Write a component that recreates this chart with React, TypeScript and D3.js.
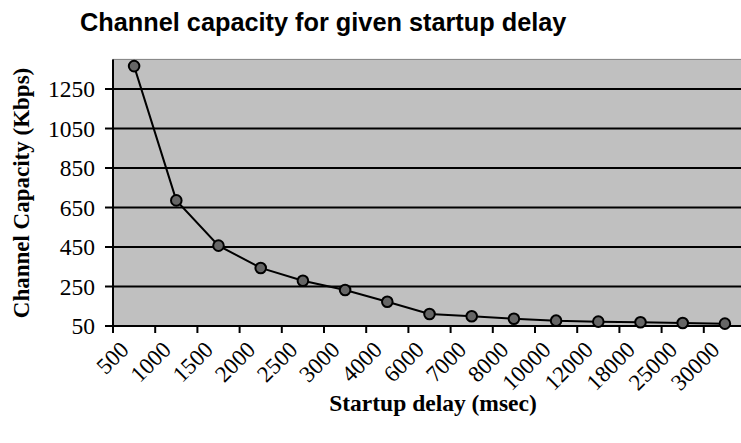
import React from "react";
import * as d3 from "d3";

const delays = ["500", "1000", "1500", "2000", "2500", "3000", "4000", "6000", "7000", "8000", "10000", "12000", "18000", "25000", "30000"];
const capacity = [1366, 686, 457, 344, 279, 232, 173, 111, 99, 87, 77, 72, 69, 65, 62];
const yTicks = [50, 250, 450, 650, 850, 1050, 1250];

const W = 741;
const H = 443;
const left = 113;
const right = 746;
const top = 59.4;
const bottom = 326;

const serif = "'Liberation Serif', 'Times New Roman', serif";
const sans = "'Liberation Sans', Arial, sans-serif";

export default function App() {
  const x = d3.scaleBand<string>().domain(delays).range([left, right]).padding(0);
  const y = d3.scaleLinear().domain([50, 1400]).range([bottom, top]);
  const cx = (d: string) => (x(d) as number) + x.bandwidth() / 2;
  const line = d3
    .line<number>()
    .x((_, i) => cx(delays[i]))
    .y((v) => y(v));

  return (
    <svg width={W} height={H} style={{ position: "absolute", left: 0, top: 0, background: "#fff" }}>
      <text x={80} y={31} style={{ fontFamily: sans, fontWeight: "bold", fontSize: 25.3 }} fill="#000">
        Channel capacity for given startup delay
      </text>
      <rect x={left} y={top} width={right - left} height={bottom - top} fill="#c0c0c0" stroke="#808080" strokeWidth={1} />
      {yTicks.filter((t) => t !== 50).map((t) => (
        <line key={"g" + t} x1={left} x2={right} y1={y(t)} y2={y(t)} stroke="#000" strokeWidth={2} />
      ))}
      {yTicks.map((t) => (
        <g key={"t" + t}>
          <line x1={left - 8} x2={left} y1={y(t)} y2={y(t)} stroke="#000" strokeWidth={2} />
          <text x={95} y={y(t)} dy="0.35em" textAnchor="end" style={{ fontFamily: serif, fontSize: 23.5 }} fill="#000">
            {t}
          </text>
        </g>
      ))}
      <line x1={left} x2={left} y1={top} y2={bottom} stroke="#000" strokeWidth={2} />
      <line x1={left} x2={right} y1={bottom} y2={bottom} stroke="#000" strokeWidth={2} />
      {delays.map((d) => (
        <line key={"xt" + d} x1={x(d) as number} x2={x(d) as number} y1={bottom} y2={bottom + 7} stroke="#000" strokeWidth={2} />
      ))}
      {delays.map((d) => (
        <text
          key={"xl" + d}
          transform={`translate(${cx(d) - 4},${351}) rotate(-45)`}
          textAnchor="end"
          style={{ fontFamily: serif, fontSize: 23 }}
          fill="#000"
        >
          {d}
        </text>
      ))}
      <path d={line(capacity) || ""} fill="none" stroke="#000" strokeWidth={2} />
      {capacity.map((v, i) => (
        <circle key={"p" + i} cx={cx(delays[i])} cy={y(v)} r={5.3} fill="#666666" stroke="#000" strokeWidth={2} />
      ))}
      <text x={433} y={411} textAnchor="middle" style={{ fontFamily: serif, fontWeight: "bold", fontSize: 23.5 }} fill="#000">
        Startup delay (msec)
      </text>
      <text
        transform={`translate(29,${193}) rotate(-90)`}
        textAnchor="middle"
        style={{ fontFamily: serif, fontWeight: "bold", fontSize: 23 }}
        fill="#000"
      >
        Channel Capacity (Kbps)
      </text>
    </svg>
  );
}
